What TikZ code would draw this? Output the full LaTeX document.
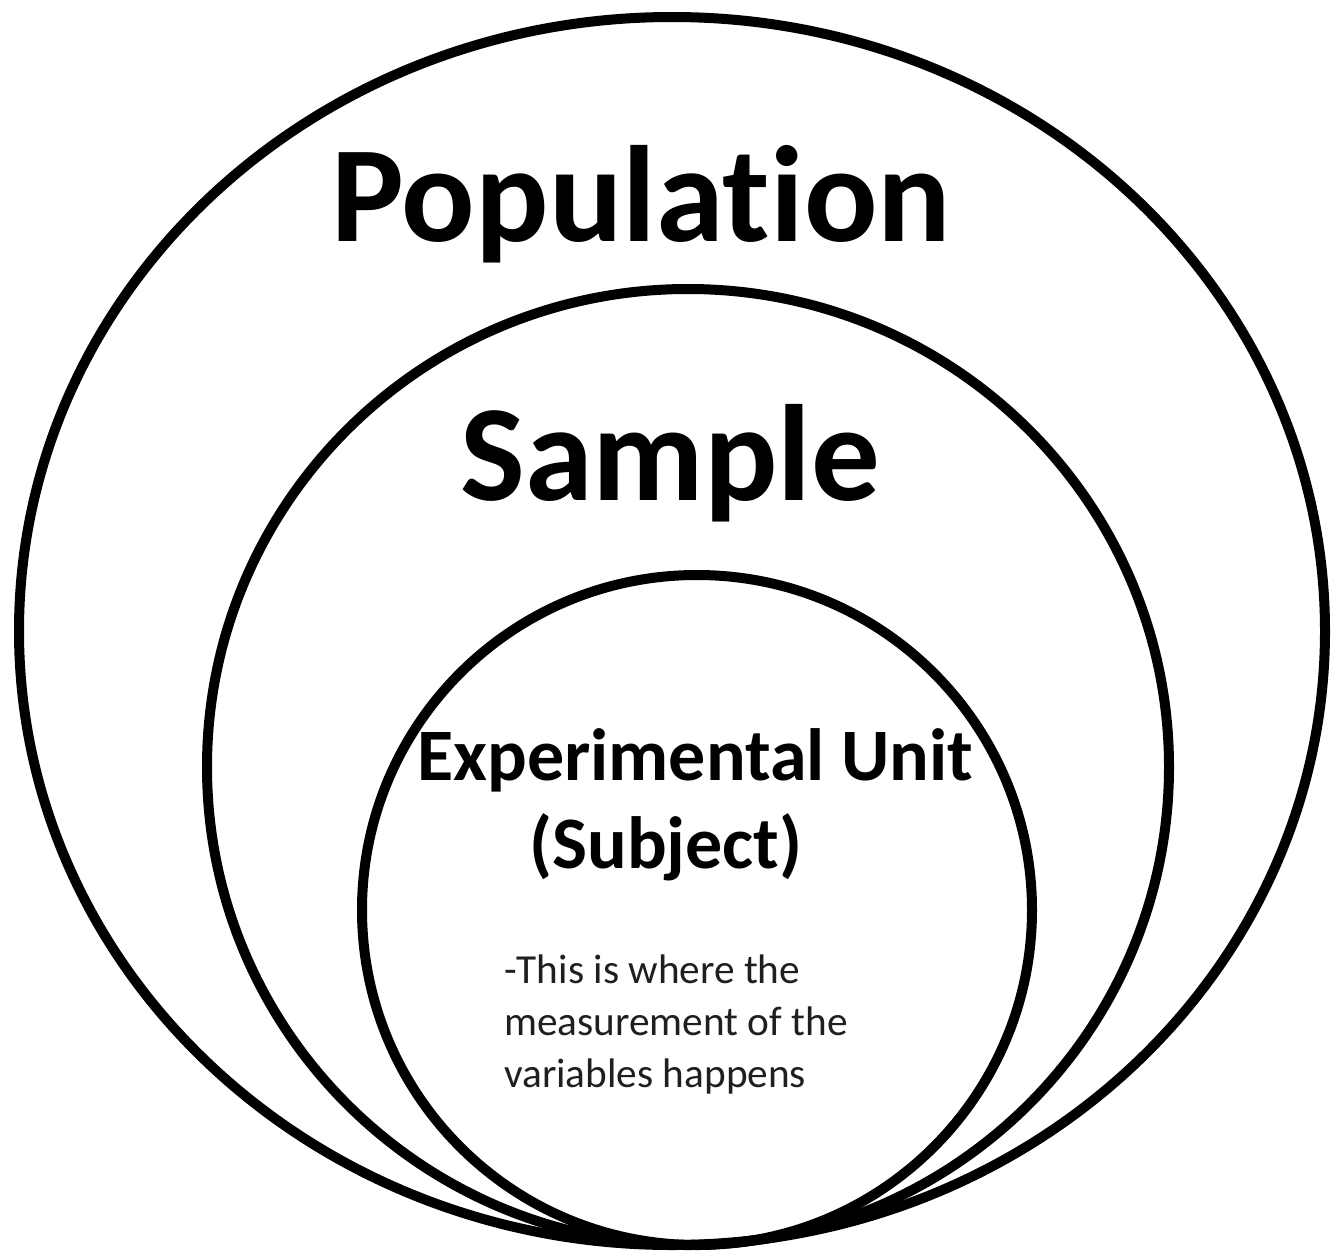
\documentclass[tikz,border=0pt]{standalone}
\usepackage{fontspec}
\setmainfont{Carlito}[Ligatures=NoCommon]
\begin{document}
\begin{tikzpicture}[x=1pt,y=-1pt,
  ring/.style={draw=black,line width=10pt},
  bigtitle/.style={anchor=base west,inner sep=0pt,font=\bfseries\fontsize{137}{140}\selectfont},
  midtitle/.style={anchor=base west,inner sep=0pt,font=\bfseries\fontsize{74}{80}\selectfont},
  bodytext/.style={anchor=base west,inner sep=0pt,align=left,text=black!88,font=\fontsize{41.3}{52}\selectfont}]
\useasboundingbox[fill=white] (0,0) rectangle (1331,1258);
\draw[ring] (672,631) ellipse [x radius=653pt, y radius=614pt];
\draw[ring] (688,767) ellipse [x radius=481pt, y radius=478pt];
\draw[ring] (697,910) ellipse [x radius=335pt, y radius=335pt];
\node[bigtitle] (pop) at (331,241) {Population};
\node[bigtitle] (samp) at (460,500) {Sample};
\node[midtitle] (exp) at (417,780) {Experimental Unit};
\node[midtitle] (subj) at (529,868) {(Subject)};
\node[bodytext] (l1) at (504,983) {-This is where the};
\node[bodytext] (l2) at (504,1035) {measurement of the};
\node[bodytext] (l3) at (504,1087) {variables happens};
\end{tikzpicture}
\end{document}
